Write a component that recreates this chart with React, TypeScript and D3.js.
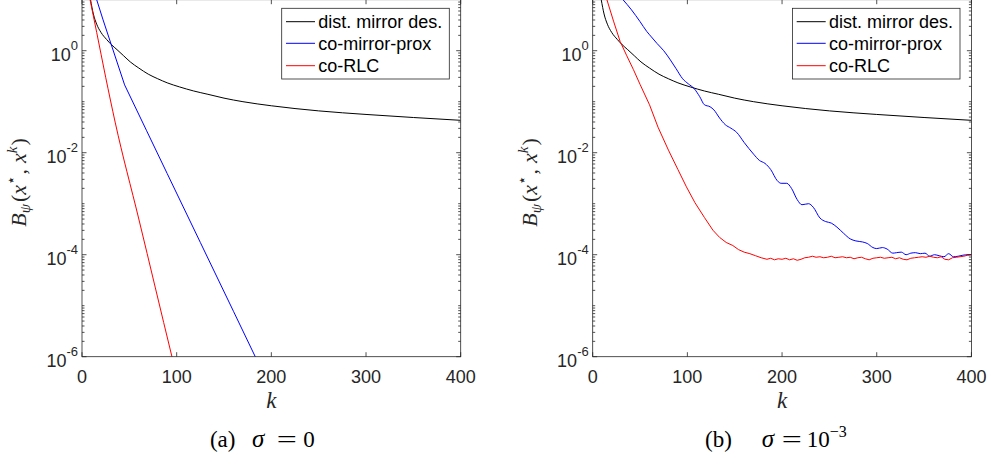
import React from 'react';
import * as d3 from 'd3';

// ---------- data (k, log10 of B_psi) ----------
const kTicks = [0, 100, 200, 300, 400];
const yTickExps = [-6, -4, -2, 0];
const legendNames = ['dist. mirror des.', 'co-mirror-prox', 'co-RLC'];
const seriesColors = ['#000000', '#0000ff', '#ff0000'];

// dist. mirror descent (same in both panels)
const mirrorK = [9, 12, 15.5, 20, 26, 31, 37, 44, 51, 60, 70, 80, 90, 103, 118, 133, 150, 170, 200, 250, 300, 350, 400];
const mirrorLog = [1.0, 0.72, 0.52, 0.36, 0.22, 0.12, 0.02, -0.10, -0.22, -0.34, -0.46, -0.55, -0.63, -0.71, -0.79, -0.855, -0.93, -1.0, -1.08, -1.18, -1.25, -1.31, -1.365];

// panel (a): sigma = 0
const proxAK = [15.5, 22, 30, 45, 68, 90, 125, 160, 183, 192];
const proxALog = [1.0, 0.62, 0.17, -0.67, -1.56, -2.41, -3.76, -5.11, -6.0, -6.35];
const rlcAK = [8.5, 15.5, 25, 35, 60, 95, 100];
const rlcALog = [1.0, 0.36, -0.52, -1.40, -3.3, -6.0, -6.38];

// panel (b): sigma = 1e-3
const proxBK = [32, 41, 50, 57, 62, 68, 75, 82, 88, 95, 101, 107, 113, 118, 124, 128, 134, 140, 146, 152, 160, 170, 176, 182, 188, 195, 199, 205, 210, 216, 221, 228, 233, 240, 246, 252, 258, 265, 272, 278, 285, 290, 296, 300, 306, 311, 317, 321, 326, 331, 336, 341, 346, 351, 356, 361, 366, 371, 376, 381, 386, 391, 396, 400];
const proxBLog = [1.0, 0.80, 0.57, 0.38, 0.27, 0.14, 0.0, -0.18, -0.35, -0.55, -0.65, -0.74, -0.90, -1.06, -1.10, -1.16, -1.32, -1.45, -1.52, -1.60, -1.80, -2.03, -2.15, -2.21, -2.33, -2.55, -2.60, -2.60, -2.70, -2.92, -3.02, -3.00, -3.07, -3.28, -3.35, -3.38, -3.46, -3.58, -3.69, -3.73, -3.75, -3.78, -3.86, -3.88, -3.86, -3.89, -3.97, -3.96, -3.95, -4.0, -3.97, -3.96, -3.98, -3.97, -4.03, -4.0, -4.02, -4.04, -3.98, -4.04, -4.03, -4.01, -4.0, -4.0];
const rlcBK = [15, 22, 29, 36, 43, 50, 60, 69, 80, 90, 99, 108, 118, 127, 134, 141, 148, 154, 160, 166, 172, 178, 184,
  188, 192, 196, 200, 204, 208, 212, 216, 220, 224, 228, 232, 236, 240, 244, 248, 252, 256, 260, 264, 268, 272, 276, 280, 284, 288, 292, 296, 300, 304, 308, 312, 316, 320, 324, 328, 332, 336, 340, 344, 348, 352, 356, 360, 364, 368, 372, 376, 380, 384, 388, 392, 396, 400];
const rlcBLog = [1.0, 0.58, 0.18, -0.1, -0.37, -0.66, -1.06, -1.50, -1.95, -2.33, -2.67, -2.98, -3.27, -3.52, -3.66, -3.76, -3.82, -3.90, -3.95, -3.98, -4.02, -4.06, -4.09,
  -4.07, -4.10, -4.08, -4.09, -4.07, -4.10, -4.08, -4.11, -4.09, -4.06, -4.05, -4.03, -4.05, -4.04, -4.06, -4.05, -4.03, -4.06, -4.05, -4.04, -4.06, -4.05, -4.08, -4.06, -4.05, -4.08, -4.10, -4.07, -4.06, -4.05, -4.07, -4.06, -4.05, -4.08, -4.06, -4.09, -4.10, -4.07, -4.06, -4.05, -4.04, -4.05, -4.03, -4.05, -4.06, -4.04, -4.09, -4.10, -4.06, -4.05, -4.04, -4.03, -4.01, -4.0];

// ---------- layout ----------
const W = 990, H = 460;
const PLOT_W = 378.7;
const TOP = -0.3, BOTTOM = 356.7;
const AXIS = '#262626';
const SANS = '"Liberation Sans", Arial, Helvetica, sans-serif';
const SERIF = '"Liberation Serif", "Times New Roman", serif';

type Series = { k: number[]; v: number[]; color: string; curve: any };

function Panel({ id, left, series, caption }: { id: string; left: number; series: Series[]; caption: 'a' | 'b' }) {
  const x = d3.scaleLinear().domain([0, 400]).range([left, left + PLOT_W]);
  const y = d3.scaleLog().domain([1e-6, 1e1]).range([BOTTOM, TOP]);
  const right = left + PLOT_W;
  const cx = (left + right) / 2;

  const minor: { v: number; major: boolean }[] = [];
  for (let e = -6; e <= 0; e++) {
    for (let m = 1; m <= 9; m++) {
      minor.push({ v: m * Math.pow(10, e), major: m === 1 && e % 2 === 0 });
    }
  }

  const lg = { x0: right - 179, y0: 8.3, w: 167.6, h: 70.7 };
  const rows = [21.7, 43.3, 65.7];
  const eqX = caption === 'a' ? cx + 15.4 : cx + 9.7;

  return (
    <g>
      <defs>
        <clipPath id={`clip-${id}`}>
          <rect x={left} y={TOP} width={PLOT_W} height={BOTTOM - TOP} />
        </clipPath>
      </defs>
      <rect x={left} y={TOP} width={PLOT_W} height={BOTTOM - TOP} fill="#fff" />
      <g clipPath={`url(#clip-${id})`}>
        {series.map((s, i) => {
          const pts: [number, number][] = s.k.map((k, j) => [k, s.v[j]]);
          const line = d3.line<[number, number]>()
            .x(d => x(d[0]))
            .y(d => y(Math.pow(10, d[1])))
            .curve(s.curve);
          return <path key={i} d={line(pts) || ''} fill="none" stroke={s.color} strokeWidth={1} />;
        })}
      </g>
      {/* box */}
      <rect x={left} y={TOP} width={PLOT_W} height={BOTTOM - TOP} fill="none" stroke={AXIS} strokeWidth={0.8} />
      {/* x ticks */}
      {kTicks.map(t => (
        <g key={t}>
          <line x1={x(t)} x2={x(t)} y1={BOTTOM} y2={BOTTOM - 4.5} stroke={AXIS} strokeWidth={0.8} />
          <line x1={x(t)} x2={x(t)} y1={TOP} y2={TOP + 4.5} stroke={AXIS} strokeWidth={0.8} />
          <text x={x(t)} y={BOTTOM + 26.7} textAnchor="middle" fontFamily={SANS} fontSize={18} fill={AXIS}>{t}</text>
        </g>
      ))}
      {/* y ticks */}
      {minor.map((m, i) => {
        const len = m.major ? 4.5 : 2.5;
        const yy = y(m.v);
        return (
          <g key={i}>
            <line x1={left} x2={left + len} y1={yy} y2={yy} stroke={AXIS} strokeWidth={0.8} />
            <line x1={right} x2={right - len} y1={yy} y2={yy} stroke={AXIS} strokeWidth={0.8} />
          </g>
        );
      })}
      {yTickExps.map(e => {
        const yy = y(Math.pow(10, e));
        return (
          <text key={e} x={left - 4} y={yy + 10} textAnchor="end" fontFamily={SANS} fontSize={18} fill={AXIS}>
            10<tspan fontSize={13} dy={-11}>{e}</tspan>
          </text>
        );
      })}
      {/* y label */}
      <text transform={`translate(${left - 56},182.5) rotate(-90)`} textAnchor="middle" fontFamily={SERIF} fontSize={22} fill={AXIS}>
        <tspan fontStyle="italic">B</tspan>
        <tspan fontStyle="italic" fontSize={15} dy={4}>ψ</tspan>
        <tspan dy={-4} dx={2}>(</tspan>
        <tspan fontStyle="italic">x</tspan>
        <tspan fontSize={15} dy={-10} fontFamily='"DejaVu Sans", sans-serif'>⋆</tspan>
        <tspan dy={10} dx={1}>,</tspan>
        <tspan fontStyle="italic" dx={6}>x</tspan>
        <tspan fontStyle="italic" fontSize={15} dy={-9}>k</tspan>
        <tspan dy={9} dx={1}>)</tspan>
      </text>
      {/* x label */}
      <text x={cx} y={408} textAnchor="middle" fontFamily={SERIF} fontStyle="italic" fontSize={23} fill={AXIS}>k</text>
      {/* caption */}
      <g fontFamily={SERIF} fontSize={23} fill="#000">
        <text x={caption === 'a' ? cx - 61.4 : cx - 77} y={446.7}>{caption === 'a' ? '(a)' : '(b)'}</text>
        <text x={caption === 'a' ? cx - 19.4 : cx - 20.3} y={446.7} fontStyle="italic" fontSize={25}>σ</text>
        <text transform={`translate(${eqX},446.7) scale(1.55,1)`} x={0} y={0} textAnchor="middle">=</text>
        {caption === 'a' ? (
          <text x={cx + 32} y={446.7}>0</text>
        ) : (
          <text x={cx + 24.7} y={446.7}>10<tspan fontSize={16} dy={-10}>−3</tspan></text>
        )}
      </g>
      {/* legend */}
      <rect x={lg.x0} y={lg.y0} width={lg.w} height={lg.h} fill="#fff" stroke={AXIS} strokeWidth={0.8} />
      {legendNames.map((n, i) => (
        <g key={n}>
          <line x1={lg.x0 + 4.3} x2={lg.x0 + 33.3} y1={rows[i]} y2={rows[i]} stroke={seriesColors[i]} strokeWidth={1} />
          <text x={lg.x0 + 36.6} y={rows[i] + 6.6} fontFamily={SANS} fontSize={18} fill="#000">{n}</text>
        </g>
      ))}
    </g>
  );
}

export default function App() {
  const seriesA: Series[] = [
    { k: mirrorK, v: mirrorLog, color: seriesColors[0], curve: d3.curveMonotoneX },
    { k: proxAK, v: proxALog, color: seriesColors[1], curve: d3.curveLinear },
    { k: rlcAK, v: rlcALog, color: seriesColors[2], curve: d3.curveMonotoneX },
  ];
  const seriesB: Series[] = [
    { k: mirrorK, v: mirrorLog, color: seriesColors[0], curve: d3.curveMonotoneX },
    { k: proxBK, v: proxBLog, color: seriesColors[1], curve: d3.curveMonotoneX },
    { k: rlcBK, v: rlcBLog, color: seriesColors[2], curve: d3.curveLinear },
  ];
  return (
    <svg width={W} height={H} style={{ position: 'absolute', left: 0, top: 0, background: '#fff' }}>
      <rect x={0} y={0} width={W} height={H} fill="#fff" />
      <Panel id="a" left={82} series={seriesA} caption="a" />
      <Panel id="b" left={592.7} series={seriesB} caption="b" />
    </svg>
  );
}
